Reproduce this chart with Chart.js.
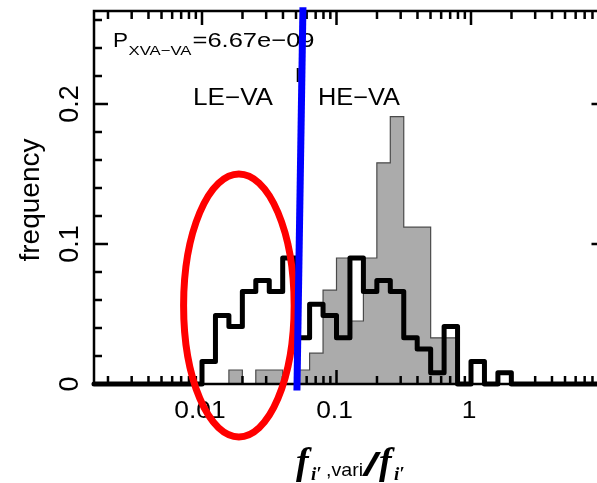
<!DOCTYPE html>
<html lang="en">
<head>
<meta charset="UTF-8">
<title>LE-VA / HE-VA variability histogram</title>
<style>
    html, body { margin: 0; padding: 0; background: #fff; overflow: hidden; }
    #wrap { width: 597px; height: 483px; overflow: hidden; }
</style>
</head>
<body>
<div id="wrap"><canvas id="histChart" width="610" height="483"></canvas></div>

<script src="https://cdn.jsdelivr.net/npm/chart.js"></script>
<script>
// bins are 0.1 dex wide, the first one starts at 0.01
const binStart = 0.01;
const binDex = 0.1;

// LE-VA sample, black step line (frequency per bin)
const leva = [0.016, 0.049, 0.041, 0.066, 0.074, 0.066, 0.090, 0.033, 0.057, 0.049, 0.033,
              0.090, 0.066, 0.074, 0.066, 0.033, 0.025, 0.008, 0.041, 0, 0.016, 0, 0.008];
// HE-VA sample, grey filled histogram
const heva = [0, 0, 0.010, 0, 0.010, 0.010, 0, 0.010, 0.022, 0.067, 0.090, 0.045,
              0.090, 0.158, 0.191, 0.112, 0.112, 0.033, 0.033, 0, 0, 0, 0];

const xTickValues = [0.01, 0.1, 1];
const xTickLabels = ['0.01', '0.1', '1'];
const yTickValues = [0, 0.1, 0.2];
const yTickLabels = ['0', '0.1', '0.2'];
const yMinorStep = 0.02;

const xMin = 0.001574, xMax = 10;
const yMin = 0, yMax = 0.2664;

// blue divider (slightly tilted in the original figure)
const dividerX = [0.0563, 0.0508];
const dividerY = [0.2691, -0.0046];
// dashed guide at the boundary, mostly hidden behind the blue line
const guideX = 0.0515;

// red ellipse: centre (data units), half width in dex, half height in frequency
const ellipseCenter = [0.0188, 0.0561];
const ellipseHalf = [0.411, 0.0939];

const pValueText = '6.67e\u221209';

// bin edges -> step points
function edge(k) { return binStart * Math.pow(10, k * binDex); }

const levaPoints = [{ x: xMin, y: 0 }];
leva.forEach((v, k) => levaPoints.push({ x: edge(k), y: v }));
levaPoints.push({ x: edge(leva.length), y: 0 }, { x: xMax, y: 0 });

const hevaPoints = [];
heva.forEach((v, k) => hevaPoints.push({ x: edge(k), y: v }));
hevaPoints.push({ x: edge(heva.length), y: 0 });

const SANS = '"Liberation Sans", Arial, sans-serif';
const SERIF = '"Liberation Serif", "Times New Roman", serif';

// text helper: sx stretches horizontally, fit forces a width, rot draws bottom-to-top
function put(ctx, s, x, y, font, opt) {
    opt = opt || {};
    ctx.save();
    ctx.font = font;
    ctx.fillStyle = '#000';
    ctx.textBaseline = 'alphabetic';
    ctx.textAlign = opt.align || 'left';
    let sx = opt.sx || 1;
    if (opt.fit) sx = opt.fit / ctx.measureText(s).width;
    ctx.translate(x, y);
    if (opt.rot) { ctx.rotate(-Math.PI / 2); ctx.scale(1, sx); }
    else ctx.scale(sx, 1);
    ctx.fillText(s, 0, 0);
    ctx.restore();
}

function drawFrame(chart) {
    const { ctx, chartArea: a, scales: { x, y } } = chart;
    ctx.save();
    ctx.setLineDash([]);
    ctx.strokeStyle = '#000';
    ctx.lineWidth = 2.5;
    ctx.strokeRect(a.left, a.top, a.right - a.left, a.bottom - a.top);

    ctx.lineWidth = 2.5;
    ctx.lineCap = 'butt';
    const nMinor = Math.floor(yMax / yMinorStep + 1e-6);
    for (let i = 0; i <= nMinor; i++) {
        const v = i * yMinorStep;
        const py = y.getPixelForValue(v);
        const major = yTickValues.some(t => Math.abs(t - v) < 1e-9);
        const len = major ? 14 : 8;
        ctx.beginPath();
        ctx.moveTo(a.left, py); ctx.lineTo(a.left + len, py);
        ctx.moveTo(a.right, py); ctx.lineTo(a.right - len, py);
        ctx.stroke();
    }
    for (let d = -3; d <= 0; d++) {
        for (let m = 1; m <= 9; m++) {
            const v = m * Math.pow(10, d);
            if (v < xMin || v > xMax) continue;
            const px = x.getPixelForValue(v);
            const len = m === 1 ? 14 : 8;
            ctx.beginPath();
            ctx.moveTo(px, a.bottom); ctx.lineTo(px, a.bottom - len);
            ctx.moveTo(px, a.top); ctx.lineTo(px, a.top + len);
            ctx.stroke();
        }
    }
    ctx.restore();
}

function drawEllipse(chart) {
    const { ctx, scales: { x, y } } = chart;
    const k = Math.pow(10, ellipseHalf[0]);
    const cx = x.getPixelForValue(ellipseCenter[0]);
    const rx = (x.getPixelForValue(ellipseCenter[0] * k) - x.getPixelForValue(ellipseCenter[0] / k)) / 2;
    const cy = y.getPixelForValue(ellipseCenter[1]);
    const ry = y.getPixelForValue(0) - y.getPixelForValue(ellipseHalf[1]);
    ctx.save();
    ctx.setLineDash([]);
    ctx.strokeStyle = '#ff0000';
    ctx.lineWidth = 7;
    ctx.beginPath();
    ctx.ellipse(cx, cy, rx, ry, 0, 0, Math.PI * 2);
    ctx.stroke();
    ctx.restore();
}

function drawTexts(chart) {
    const { ctx, scales: { x, y } } = chart;

    // tick labels
    xTickValues.forEach((v, i) => {
        put(ctx, xTickLabels[i], x.getPixelForValue(v) - 2, 418, '24px ' + SANS, { align: 'center', sx: 1.1 });
    });
    yTickValues.forEach((v, i) => {
        put(ctx, yTickLabels[i], 78, y.getPixelForValue(v), '27px ' + SANS, { align: 'center', rot: true });
    });

    // axis titles
    put(ctx, 'frequency', 38.5, 200, '28px ' + SANS, { align: 'center', rot: true });
    put(ctx, 'f', 296, 474, 'bold italic 38px ' + SERIF);
    put(ctx, 'i\u2032', 311, 480, 'bold italic 19px ' + SERIF);
    put(ctx, ',vari', 326, 476, '19px ' + SANS, { fit: 37 });
    put(ctx, '/', 362, 476, '34px ' + SANS, { fit: 19 });
    put(ctx, 'f', 379, 474, 'bold italic 38px ' + SERIF);
    put(ctx, 'i\u2032', 394, 480, 'bold italic 19px ' + SERIF);

    // annotations
    put(ctx, 'P', 113, 46.7, '21px ' + SANS, { fit: 15 });
    put(ctx, 'XVA\u2212VA', 128.5, 55, '13px ' + SANS, { fit: 63 });
    put(ctx, '=' + pValueText, 192.5, 46.7, '21px ' + SANS, { fit: 122 });
    put(ctx, 'LE\u2212VA', 193, 105, '23px ' + SANS, { fit: 80 });
    put(ctx, 'HE\u2212VA', 318, 105, '23px ' + SANS, { fit: 82 });
}

const decor = {
    id: 'decor',
    beforeDatasetsDraw(chart) { drawTexts(chart); },
    afterDatasetDraw(chart, args) {
        // after the black step line: frame and ticks, then the red ellipse
        if (args.index === 2) {
            drawFrame(chart);
            drawEllipse(chart);
        }
    }
};

const ctx = document.getElementById('histChart').getContext('2d');
new Chart(ctx, {
    type: 'line',
    data: {
        datasets: [
            {   // blue divider (drawn last, on top)
                data: dividerX.map((v, i) => ({ x: v, y: dividerY[i] })),
                borderColor: '#0000ff', borderWidth: 7, borderCapStyle: 'butt',
                pointRadius: 0, clip: false
            },
            {   // dashed guide
                data: [{ x: guideX, y: yMax }, { x: guideX, y: 0 }],
                borderColor: '#000', borderWidth: 2, borderDash: [14, 400], borderDashOffset: 357,
                pointRadius: 0, clip: false
            },
            {   // LE-VA
                data: levaPoints, stepped: true,
                borderColor: '#000', borderWidth: 5, borderJoinStyle: 'round', borderCapStyle: 'round',
                pointRadius: 0, clip: false
            },
            {   // HE-VA
                data: hevaPoints, stepped: true, fill: 'origin',
                backgroundColor: '#ababab', borderColor: '#4a4a4a', borderWidth: 1.2,
                pointRadius: 0
            }
        ]
    },
    options: {
        responsive: false,
        animation: false,
        devicePixelRatio: 1,
        layout: { padding: { top: 11, right: 4.5, left: 0, bottom: 0 } },
        plugins: { legend: { display: false }, tooltip: { enabled: false } },
        scales: {
            x: {
                type: 'logarithmic', min: xMin, max: xMax,
                ticks: { display: false }, grid: { display: false }, border: { display: false },
                afterFit(s) { s.height = 99; }
            },
            y: {
                type: 'linear', min: yMin, max: yMax,
                ticks: { display: false }, grid: { display: false }, border: { display: false },
                afterFit(s) { s.width = 94; }
            }
        }
    },
    plugins: [decor]
});
</script>
</body>
</html>
